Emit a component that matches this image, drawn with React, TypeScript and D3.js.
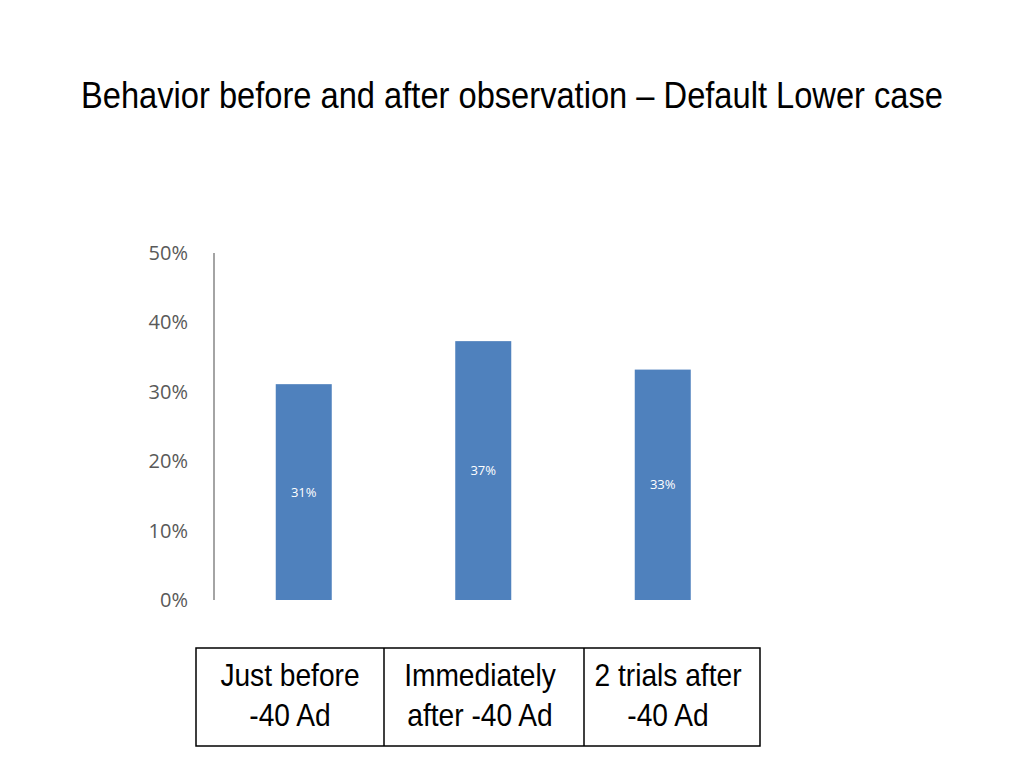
import React from "react";
import * as d3 from "d3";

const title = "Behavior before and after observation – Default Lower case";
const categories = ["Just before -40 Ad", "Immediately after -40 Ad", "2 trials after -40 Ad"];
const categoryLines = [
  ["Just before", "-40 Ad"],
  ["Immediately", "after -40 Ad"],
  ["2 trials after", "-40 Ad"],
];
const values = [0.311, 0.373, 0.332];
const valueLabels = ["31%", "37%", "33%"];
const yTicks = [0, 0.1, 0.2, 0.3, 0.4, 0.5];

const W = 1024;
const H = 768;
const plot = { left: 214, right: 752.5, top: 253, bottom: 600 };
const table = { left: 196, right: 760, top: 648, bottom: 746, cuts: [384, 584] };

export default function App() {
  const x = d3
    .scaleBand<string>()
    .domain(categories)
    .range([plot.left, plot.right])
    .paddingInner(0.688)
    .paddingOuter(0.344);
  const y = d3.scaleLinear().domain([0, 0.5]).range([plot.bottom, plot.top]);
  const fmt = d3.format(".0%");
  const narrow = "'Liberation Sans', Arial, sans-serif";
  const calibri = "'Open Sans', sans-serif";
  const cellEdges = [table.left, ...table.cuts, table.right];

  return (
    <svg width={W} height={H} style={{ position: "absolute", left: 0, top: 0, background: "#fff" }}>
      <rect x={0} y={0} width={W} height={H} fill="#fff" />
      <g transform="translate(512,108) scale(0.907,1)">
        <text x={0} y={0} textAnchor="middle" fontFamily={narrow} fontSize={36} fill="#000">
          {title}
        </text>
      </g>

      {yTicks.map((t) => (
        <text
          key={t}
          x={188}
          y={y(t)}
          dy="0.35em"
          textAnchor="end"
          fontFamily={calibri}
          fontSize={20}
          fill="#595959"
        >
          {fmt(t)}
        </text>
      ))}
      <line x1={plot.left} x2={plot.left} y1={y(0.5)} y2={y(0)} stroke="#868686" strokeWidth={1.5} />

      {categories.map((c, i) => (
        <g key={c}>
          <rect
            x={x(c)}
            y={y(values[i])}
            width={x.bandwidth()}
            height={y(0) - y(values[i])}
            fill="#4f81bd"
          />
          <text
            x={(x(c) as number) + x.bandwidth() / 2}
            y={(y(values[i]) + y(0)) / 2}
            dy="0.35em"
            textAnchor="middle"
            fontFamily={calibri}
            fontSize={13}
            fill="#fff"
          >
            {valueLabels[i]}
          </text>
        </g>
      ))}

      <rect
        x={table.left}
        y={table.top}
        width={table.right - table.left}
        height={table.bottom - table.top}
        fill="none"
        stroke="#000"
        strokeWidth={1.5}
      />
      {table.cuts.map((cx) => (
        <line key={cx} x1={cx} x2={cx} y1={table.top} y2={table.bottom} stroke="#000" strokeWidth={1.5} />
      ))}
      {categoryLines.map((lines, i) => {
        const cx = (cellEdges[i] + cellEdges[i + 1]) / 2 - (i === 0 ? 0 : 4);
        return (
          <g key={i} transform={`translate(${cx},0) scale(0.88,1)`}>
            <text textAnchor="middle" fontFamily={narrow} fontSize={32} fill="#000">
              {lines.map((l, j) => (
                <tspan key={j} x={0} y={686 + j * 40.5}>
                  {l}
                </tspan>
              ))}
            </text>
          </g>
        );
      })}
    </svg>
  );
}
